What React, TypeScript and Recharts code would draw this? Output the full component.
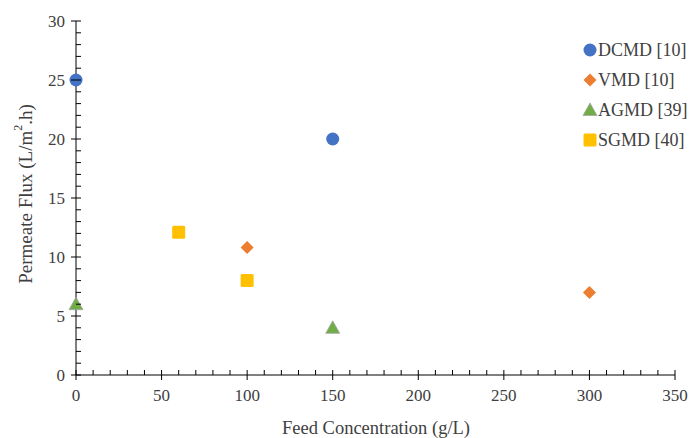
import { ScatterChart, Scatter, XAxis, YAxis, Label } from 'recharts';

// values
const dcmdX = [0, 150];
const dcmdY = [25, 20];
const vmdX = [100, 300];
const vmdY = [10.8, 7];
const agmdX = [0, 150];
const agmdY = [6, 4];
const sgmdX = [60, 100];
const sgmdY = [12.1, 8];

const xTicks = Array.from({ length: 36 }, (_, i) => i * 10);
const yTicks = Array.from({ length: 31 }, (_, i) => i);

const FONT = '"Liberation Serif", "Times New Roman", serif';
const TXT = '#404040';

const toPoints = (xs: number[], ys: number[]) => xs.map((x, i) => ({ x, y: ys[i] }));

const series = [
  { name: 'DCMD [10]', color: '#4472C4', kind: 'circle', data: toPoints(dcmdX, dcmdY) },
  { name: 'VMD [10]', color: '#ED7D31', kind: 'diamond', data: toPoints(vmdX, vmdY) },
  { name: 'AGMD [39]', color: '#70AD47', kind: 'triangle', data: toPoints(agmdX, agmdY) },
  { name: 'SGMD [40]', color: '#FFC000', kind: 'square', data: toPoints(sgmdX, sgmdY) },
];

function Marker({ kind, cx, cy, color }: { kind: string; cx: number; cy: number; color: string }) {
  if (kind === 'circle') return <circle cx={cx} cy={cy} r={6.5} fill={color} />;
  if (kind === 'diamond')
    return <polygon points={`${cx},${cy - 6.5} ${cx + 6.5},${cy} ${cx},${cy + 6.5} ${cx - 6.5},${cy}`} fill={color} />;
  if (kind === 'triangle')
    return (
      <polygon
        points={`${cx},${cy - 7} ${cx + 7},${cy + 5.5} ${cx - 7},${cy + 5.5}`}
        fill={color}
        stroke="#A5A5A5"
        strokeWidth={0.8}
      />
    );
  return <rect x={cx - 6.5} y={cy - 6.5} width={13} height={13} rx={1.5} fill={color} />;
}

const XTick = ({ x, y, payload }: any) => {
  const major = payload.value % 50 === 0;
  return (
    <g>
      <line x1={x} x2={x} y1={y - 5} y2={major ? y + 5 : y} stroke="#000" />
      {major && (
        <text x={x} y={y + 26} textAnchor="middle" fontFamily={FONT} fontSize={17} fill={TXT}>
          {payload.value}
        </text>
      )}
    </g>
  );
};

const YTick = ({ x, y, payload }: any) => {
  const major = payload.value % 5 === 0;
  return (
    <g>
      <line x1={major ? x - 5 : x} x2={x + 5} y1={y} y2={y} stroke="#000" />
      {major && (
        <text x={x - 11} y={y + 6} textAnchor="end" fontFamily={FONT} fontSize={17} fill={TXT}>
          {payload.value}
        </text>
      )}
    </g>
  );
};

const LegendBox = () => (
  <div
    style={{ position: 'absolute', left: 582, top: 35, fontFamily: FONT, fontSize: 18, color: TXT, lineHeight: 1 }}
  >
    {series.map((s) => (
      <div key={s.name} style={{ display: 'flex', alignItems: 'center', height: 30 }}>
        <svg width={16} height={16}>
          <Marker kind={s.kind} cx={8} cy={8} color={s.color} />
        </svg>
        <span>{s.name}</span>
      </div>
    ))}
  </div>
);

export default function App() {
  return (
    <div style={{ position: 'absolute', left: 0, top: 0, width: 690, height: 438, background: '#fff' }}>
      <ScatterChart width={690} height={438} margin={{ top: 21, right: 15, bottom: 23, left: 0 }}>
        {series.map((s) => (
          <Scatter
            key={s.name}
            name={s.name}
            data={s.data}
            fill={s.color}
            isAnimationActive={false}
            shape={(p: any) => <Marker kind={s.kind} cx={p.cx} cy={p.cy} color={s.color} />}
          />
        ))}
        <XAxis
          type="number"
          dataKey="x"
          domain={[0, 350]}
          ticks={xTicks}
          interval={0}
          tickSize={0}
          tickMargin={0}
          tickLine={false}
          tick={<XTick />}
          height={40}
          axisLine={{ stroke: '#000' }}
        >
          <Label
            content={() => (
              <text x={376} y={434} textAnchor="middle" fontFamily={FONT} fontSize={18.5} fill={TXT}>
                Feed Concentration (g/L)
              </text>
            )}
          />
        </XAxis>
        <YAxis
          type="number"
          dataKey="y"
          domain={[0, 30]}
          ticks={yTicks}
          interval={0}
          tickSize={0}
          tickMargin={0}
          tickLine={false}
          tick={<YTick />}
          width={76}
          axisLine={{ stroke: '#000' }}
        >
          <Label
            content={() => (
              <text
                x={25}
                y={194}
                transform="rotate(-90 25 194)"
                textAnchor="middle"
                dominantBaseline="central"
                fontFamily={FONT}
                fontSize={19}
                fill={TXT}
              >
                Permeate Flux (L/m<tspan dy={-7} fontSize={12}>2</tspan>
                <tspan dy={7}>.h)</tspan>
              </text>
            )}
          />
        </YAxis>
      </ScatterChart>
      <LegendBox />
    </div>
  );
}
